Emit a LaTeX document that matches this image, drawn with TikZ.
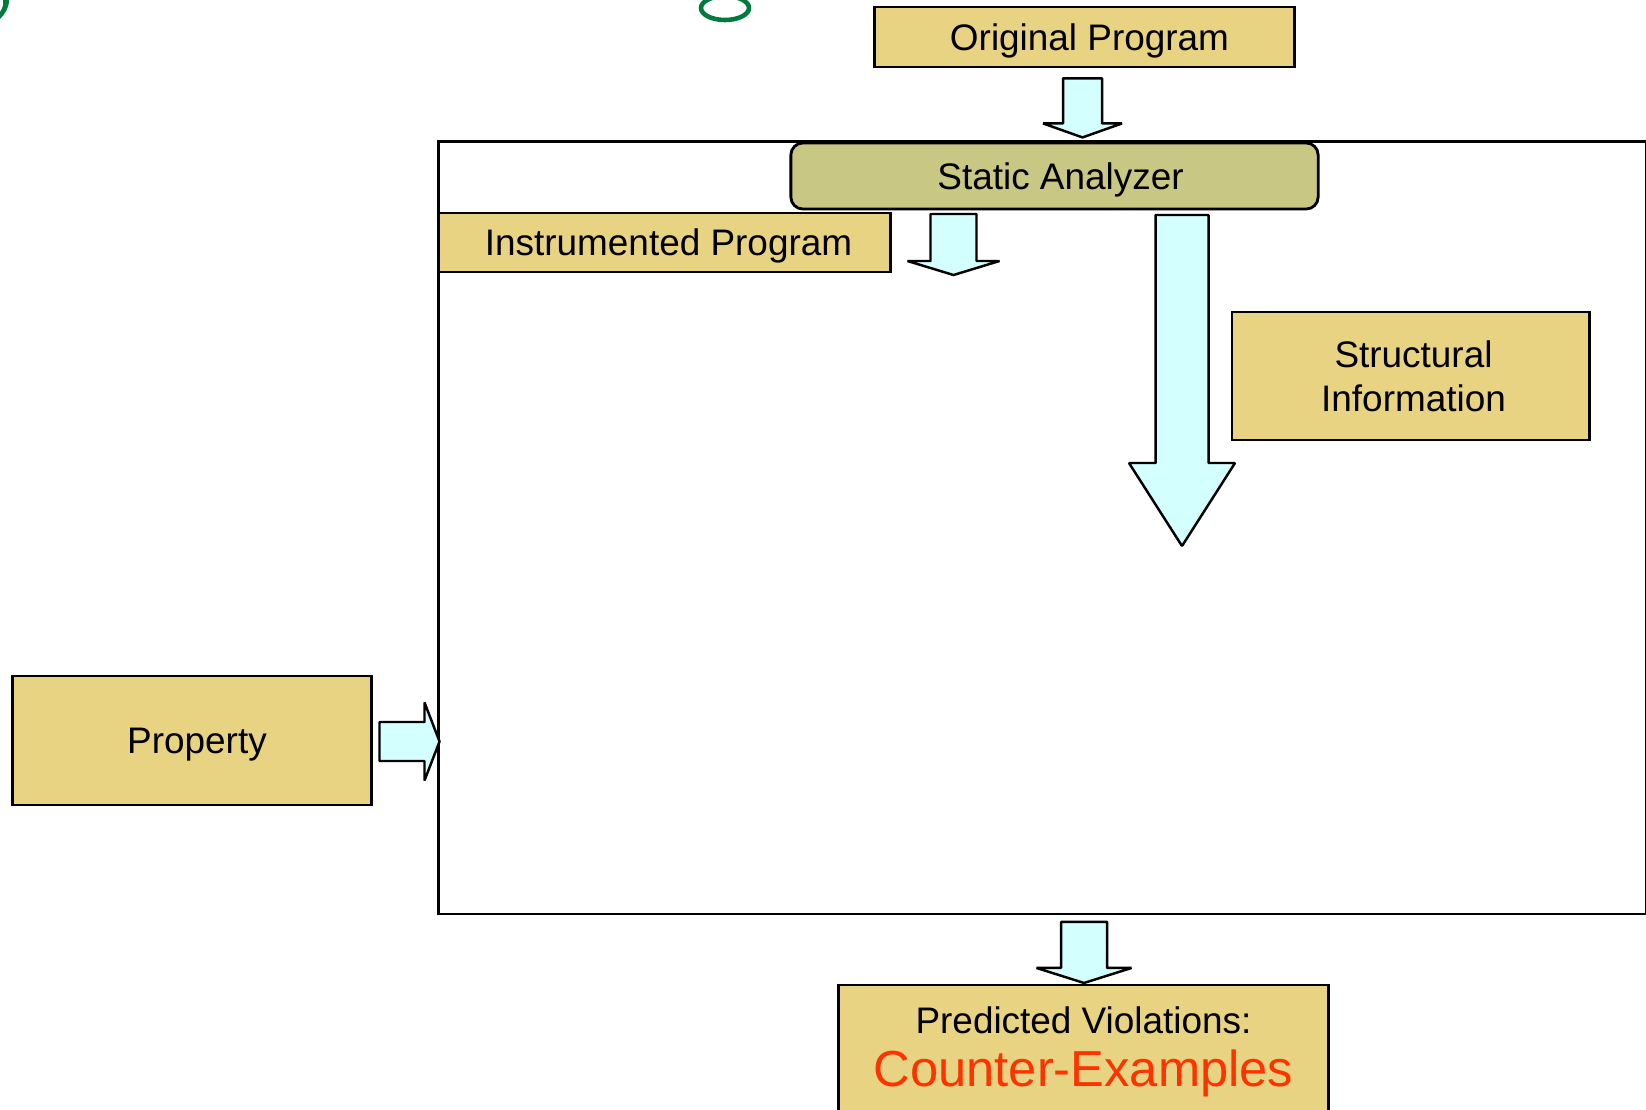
\documentclass[tikz,border=0pt]{standalone}
\usepackage{fontspec}
\setmainfont{Liberation Sans}
\usetikzlibrary{calc}

\definecolor{boxtan}{RGB}{232,211,130}
\definecolor{saolive}{RGB}{200,200,132}
\definecolor{flowcyan}{RGB}{212,255,255}
\definecolor{cexred}{RGB}{255,51,0}
\definecolor{titlegreen}{RGB}{0,122,61}

% block arrow pointing down: start, shaft half width, wing half width, shaft length, head length
\newcommand{\blockdown}[5]{%
  \draw[blockarrow] (#1) ++(-#2,0) -- ++(0,#4) -- ++({-(#3-#2)},0)
    -- ++(#3,#5) -- ++(#3,-#5) -- ++({-(#3-#2)},0) -- ++(0,-#4) -- cycle;}
% block arrow pointing right
\newcommand{\blockright}[5]{%
  \draw[blockarrow] (#1) ++(0,-#2) -- ++(#4,0) -- ++(0,{-(#3-#2)})
    -- ++(#5,#3) -- ++(-#5,#3) -- ++(0,{-(#3-#2)}) -- ++(-#4,0) -- cycle;}

\begin{document}
\begin{tikzpicture}[x=0.01cm,y=-0.01cm,
  txt/.style={font=\fontsize{10.5}{12.5}\selectfont, text=black},
  tanbox/.style={txt, draw=black, line width=0.8pt, fill=boxtan, inner sep=0pt,
    text height=7.5pt, text depth=0pt},
  sabox/.style={tanbox, fill=saolive, rounded corners=0.12cm},
  blockarrow/.style={draw=black, line width=0.7pt, fill=flowcyan, line join=miter, miter limit=1.4},
  frame/.style={draw=black, line width=0.7pt}]

\useasboundingbox (0,0) rectangle (1646,1109);
\clip (0,0) rectangle (1646,1109);
\fill[white] (0,0) rectangle (1646,1109);

% fragments of the heading cut off at the top edge
\fill[titlegreen] (3,0) -- (9,0) .. controls (9,8) and (5,14) .. (0,19)
  -- (0,12) .. controls (2,9) and (4,5) .. (3,0) -- cycle;
\draw[titlegreen, line width=1.3pt] (725,8) ellipse [x radius=24, y radius=12];

% analysis frame
\node[frame, minimum width=12.07cm, minimum height=7.72cm, inner sep=0pt] (frame) at (1042.5,527.5) {};

% boxes
\node[tanbox, minimum width=4.19cm, minimum height=0.60cm] (orig) at (1084.5,37) {\hspace*{0.1cm}Original Program};
\node[sabox, minimum width=5.27cm, minimum height=0.66cm] (sa) at (1054.5,176) {\hspace*{0.12cm}Static Analyzer};
\node[tanbox, minimum width=4.51cm, minimum height=0.59cm] (instr) at (664.5,242.5) {\hspace*{0.08cm}Instrumented Program};
\node[txt, draw=black, line width=0.8pt, fill=boxtan, inner sep=0pt, align=center,
  minimum width=3.57cm, minimum height=1.28cm] (struct) at (1410.5,376)
  {\hspace*{0.06cm}Structural\\\hspace*{0.06cm}Information};
\node[tanbox, minimum width=3.58cm, minimum height=1.29cm] (prop) at (192,740.5) {\hspace*{0.1cm}Property};
\node[draw=black, line width=0.8pt, fill=boxtan, inner sep=0pt,
  minimum width=4.89cm, minimum height=1.40cm] (pred) at (1083.5,1055) {};
\node[txt, anchor=base] (predtxt) at (1083.5,1033) {Predicted Violations:};
\node[font=\fontsize{14.4}{16}\selectfont, text=cexred, anchor=base] (cex) at (1083.5,1086) {Counter-Examples};

% flow arrows
\coordinate (a1) at ($(orig.south)+(-2,10)$);
\coordinate (a2) at (953.5,214);
\coordinate (a3) at (1182,215);
\coordinate (a4) at ($(frame.south)+(41.5,7)$);
\coordinate (a5) at ($(prop.east)+(7,1)$);
\blockdown{a1}{19.5}{39.5}{45}{14}
\blockdown{a2}{23}{46}{47}{14}
\blockdown{a3}{26.5}{53}{248}{83}
\blockdown{a4}{23}{47.5}{46}{15}
\blockright{a5}{19.5}{39}{45}{15}

\end{tikzpicture}
\end{document}
